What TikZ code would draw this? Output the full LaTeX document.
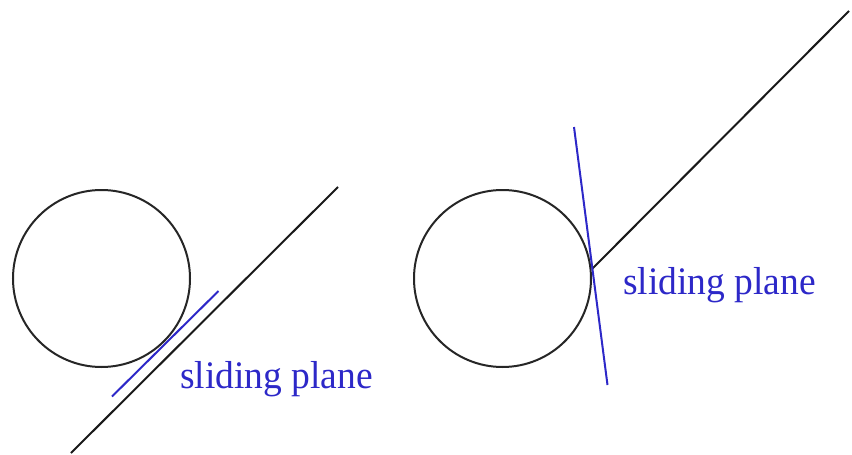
\documentclass[tikz,border=0pt]{standalone}
\usepackage{fontspec}
\setmainfont{Liberation Serif}
\definecolor{slideblue}{RGB}{45,40,200}
\begin{document}
\begin{tikzpicture}[x=1pt,y=-1pt,
  ball/.style={circle,draw=black!85,line width=2pt,minimum size=177pt,inner sep=0pt},
  floorline/.style={draw=black!90,line width=2pt},
  planeline/.style={draw=slideblue,line width=2pt},
  planelabel/.style={text=slideblue,font=\fontsize{37.5}{37.5}\selectfont,yscale=1.04,inner sep=0pt,anchor=base west}]
\useasboundingbox (0,0) rectangle (852,455);
% left
\node[ball] (c1) at (101.5,278.5) {};
\coordinate (f1a) at (71,453);
\coordinate (f1b) at (338,187);
\coordinate (p1a) at (112,396.5);
\coordinate (p1b) at (218.5,291);
\draw[floorline] (f1a) -- (f1b);
\draw[planeline] (p1a) -- (p1b);
\node[planelabel] (t1) at (180,388.5) {sliding plane};
% right
\node[ball] (c2) at (502.5,278.5) {};
\coordinate (f2a) at (592,269);
\coordinate (f2b) at (849,11);
\coordinate (p2a) at (574,127);
\coordinate (p2b) at (607.5,385);
\draw[floorline] (f2a) -- (f2b);
\draw[planeline] (p2a) -- (p2b);
\node[planelabel] (t2) at (623,294) {sliding plane};
\end{tikzpicture}
\end{document}
